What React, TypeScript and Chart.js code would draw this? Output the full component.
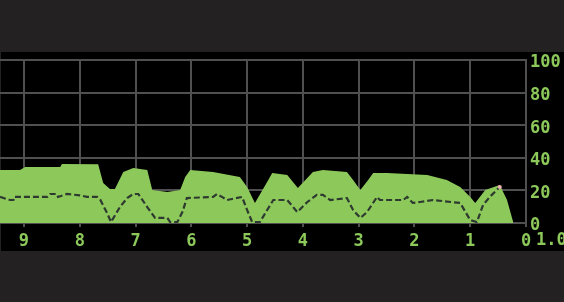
import React, { useEffect, useRef } from "react";
import { Chart, registerables } from "chart.js";

Chart.register(...registerables);

// Upper envelope (filled green area)
const envX = [9.43, 9.07, 8.98, 8.35, 8.32, 7.67, 7.58, 7.46, 7.37, 7.22, 7.04, 6.79, 6.70, 6.43, 6.20, 6.11, 6.02, 5.61, 5.13, 5.0, 4.86, 4.62, 4.55, 4.28, 4.09, 3.82, 3.64, 3.21, 3.10, 2.97, 2.83, 2.74, 2.49, 1.77, 1.42, 1.18, 1.00, 0.91, 0.73, 0.47, 0.34, 0.23];
const envY = [32.5, 32.5, 34.4, 34.4, 36.2, 36.0, 24.5, 20.9, 20.9, 31.3, 33.7, 32.5, 20.2, 19.0, 20.2, 28.2, 32.5, 31.3, 28.2, 22.1, 12.3, 26.4, 30.7, 29.4, 21.5, 31.3, 32.5, 31.3, 26.4, 20.2, 26.4, 30.7, 30.7, 29.4, 26.4, 22.1, 16.0, 12.3, 20.2, 23.3, 14.1, 0.6];

// Dashed trace
const lineX = [9.43, 9.25, 9.19, 9.18, 8.58, 8.53, 8.41, 8.39, 8.23, 8.0, 7.87, 7.69, 7.63, 7.51, 7.44, 7.28, 7.15, 7.04, 6.95, 6.79, 6.65, 6.43, 6.38, 6.25, 6.16, 6.08, 5.61, 5.54, 5.45, 5.36, 5.09, 5.0, 4.91, 4.77, 4.64, 4.53, 4.28, 4.10, 3.92, 3.75, 3.64, 3.51, 3.21, 3.10, 2.97, 2.85, 2.67, 2.62, 2.20, 2.13, 2.03, 1.90, 1.67, 1.18, 1.00, 0.88, 0.77, 0.65, 0.47];
const lineY = [16.0, 14.1, 14.1, 16.0, 16.0, 17.8, 17.8, 16.0, 17.8, 17.0, 16.0, 16.0, 14.1, 6.1, 0.6, 9.8, 15.3, 17.8, 17.8, 9.8, 3.1, 3.1, 0.6, 0.6, 6.7, 15.3, 16.0, 17.8, 16.0, 14.1, 16.0, 8.0, 0.6, 0.6, 8.0, 14.1, 14.1, 6.7, 12.9, 17.2, 17.2, 14.1, 15.3, 8.0, 3.1, 6.7, 16.0, 14.1, 14.1, 16.0, 12.3, 12.9, 14.1, 12.3, 1.8, 0.6, 11.0, 16.0, 22.1];

const xTickValues = [0, 1, 2, 3, 4, 5, 6, 7, 8, 9];
const yTickValues = [0, 20, 40, 60, 80, 100];
const extraXText = "1.0";

const GREEN = "#8cc85a";
const GRID = "#505050";
const FONT = { family: "'DejaVu Sans Mono', monospace", size: 17, weight: "bold" as const };

export default function App() {
  const ref = useRef<HTMLCanvasElement | null>(null);

  useEffect(() => {
    if (!ref.current) return;
    const extraLabelPlugin = {
      id: "extraLabel",
      afterDraw(chart: any) {
        const ctx = chart.ctx;
        const xs = chart.scales.x;
        ctx.save();
        ctx.fillStyle = GREEN;
        ctx.font = `bold ${FONT.size}px ${FONT.family}`;
        ctx.textAlign = "left";
        ctx.textBaseline = "middle";
        const px = xs.getPixelForValue(0);
        ctx.fillText(extraXText, px + 10, 241);
        ctx.restore();
      },
    };
    const chart = new Chart(ref.current, {
      type: "line",
      data: {
        datasets: [
          {
            data: lineX.map((x, i) => ({ x, y: lineY[i] })),
            borderColor: "#2e3a30",
            borderWidth: 2.2,
            borderDash: [6, 3],
            fill: false,
            pointRadius: lineX.map((_, i) => (i === lineX.length - 1 ? 2 : 0)),
            pointBackgroundColor: "#f0b0b0",
            pointBorderWidth: 0,
            tension: 0,
            order: 0,
          },
          {
            data: envX.map((x, i) => ({ x, y: envY[i] })),
            borderWidth: 0,
            borderColor: GREEN,
            backgroundColor: GREEN,
            fill: "origin",
            pointRadius: 0,
            tension: 0,
            order: 1,
          },
        ],
      },
      plugins: [extraLabelPlugin],
      options: {
        animation: false,
        responsive: false,
        maintainAspectRatio: false,
        layout: { autoPadding: false, padding: { top: 60, left: 0, right: 0, bottom: 51 } },
        plugins: { legend: { display: false }, tooltip: { enabled: false } },
        scales: {
          x: {
            type: "linear",
            reverse: true,
            min: 0,
            max: 9.43,
            afterFit(s: any) { s.height = 28; },
            afterBuildTicks(s: any) { s.ticks = xTickValues.map((v) => ({ value: v })); },
            ticks: { color: GREEN, font: FONT, padding: 4, includeBounds: false, callback: (v: any) => String(v) },
            grid: { color: GRID, lineWidth: 2, tickLength: 4, drawTicks: true, tickColor: GRID },
            border: { color: GRID, width: 2 },
          },
          y: {
            position: "right",
            min: 0,
            max: 100,
            afterFit(s: any) { s.width = 38; },
            afterBuildTicks(s: any) { s.ticks = yTickValues.map((v) => ({ value: v })); },
            ticks: { color: GREEN, font: FONT, padding: 4, labelOffset: 3 },
            grid: { color: GRID, lineWidth: 2, drawTicks: false },
            border: { color: GRID, width: 2 },
          },
        },
      },
    });
    return () => chart.destroy();
  }, []);

  return (
    <div style={{ position: "absolute", left: 0, top: 0, width: 564, height: 302, background: "#232122", overflow: "hidden" }}>
      <div style={{ position: "absolute", left: 1, top: 52, width: 563, height: 199, background: "#000" }} />
      <canvas ref={ref} width={564} height={302} style={{ position: "absolute", left: 0, top: 0, width: 564, height: 302 }} />
    </div>
  );
}
